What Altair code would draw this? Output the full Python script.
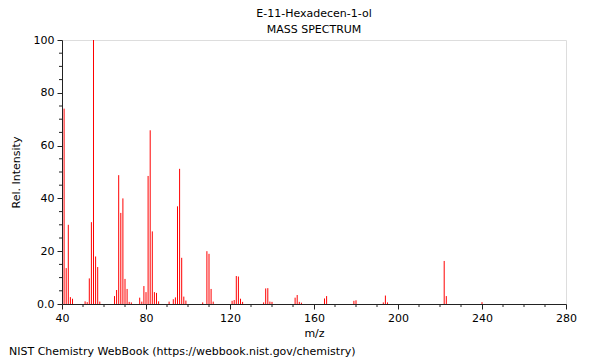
import altair as alt
import pandas as pd

# m/z values and relative intensities
mz = [41, 42, 43, 44, 45, 51, 52, 53, 54, 55, 56, 57, 58,
      65, 66, 67, 68, 69, 70, 71, 72, 73,
      77, 78, 79, 80, 81, 82, 83, 84, 85, 86,
      91, 93, 94, 95, 96, 97, 98, 99,
      107, 109, 110, 111, 112,
      121, 122, 123, 124, 125, 126,
      136, 137, 138, 139, 140,
      151, 152, 153, 154,
      165, 166, 179, 180, 193, 194, 195, 222, 223, 240]
intensity = [74.0, 13.6, 30.0, 2.6, 2.0, 1.0, 0.7, 9.7, 31.0, 100.0, 18.0, 14.0, 0.9,
             3.0, 5.3, 48.8, 34.5, 40.0, 9.5, 5.7, 0.8, 0.6,
             2.4, 0.9, 6.8, 4.5, 48.5, 65.8, 27.5, 4.5, 4.2, 1.0,
             0.9, 1.8, 2.5, 37.0, 51.2, 17.5, 2.8, 1.3,
             0.6, 20.0, 19.0, 5.7, 0.9,
             1.2, 1.5, 10.6, 10.4, 2.0, 0.8,
             0.6, 5.9, 6.0, 0.9, 0.8,
             2.4, 3.4, 0.8, 0.5,
             2.1, 3.0, 1.2, 1.4, 0.6, 3.2, 0.6, 16.3, 3.0, 0.7]

x_major = [40, 80, 120, 160, 200, 240, 280]
x_minor = [v for v in range(40, 281, 10) if v not in x_major]
y_major = [0, 20, 40, 60, 80, 100]
y_minor = [v for v in range(0, 101, 5) if v not in y_major]

title_lines = ["E-11-Hexadecen-1-ol", "MASS SPECTRUM"]
footer = "NIST Chemistry WebBook (https://webbook.nist.gov/chemistry)"

W, H = 504, 264
FONT = "DejaVu Sans"
AX = "#222"

df = pd.DataFrame({"mz": mz, "intensity": intensity})

xscale = alt.Scale(domain=[40, 280], nice=False, zero=False)
yscale = alt.Scale(domain=[0, 100], nice=False)

common = dict(tickSize=5, labelPadding=3, labelFontSize=11, titleFontSize=11,
              titleFontWeight="normal", labelColor="#000", titleColor="#000",
              domainColor=AX, tickColor=AX, grid=False, labelFlush=False,
              labelFont=FONT, titleFont=FONT)

peaks = alt.Chart(df).mark_rule(color="#ff0000", strokeWidth=1).encode(
    x=alt.X("mz:Q", scale=xscale,
            axis=alt.Axis(values=x_major, title="m/z", titlePadding=4, **common)),
    y=alt.Y("intensity:Q", scale=yscale,
            axis=alt.Axis(values=y_major, title="Rel. Intensity",
                          labelExpr="datum.value == 0 ? '0.0' : datum.label",
                          titlePadding=12, **common)),
    y2=alt.datum(0),
)

xminor = alt.Chart(pd.DataFrame({"v": x_minor})).mark_rule(color=AX, strokeWidth=1).encode(
    x=alt.X("v:Q", scale=xscale),
    y=alt.value(H), y2=alt.value(H + 3),
)
yminor = alt.Chart(pd.DataFrame({"v": y_minor})).mark_rule(color=AX, strokeWidth=1).encode(
    y=alt.Y("v:Q", scale=yscale),
    x=alt.value(-3), x2=alt.value(0),
)

def label(text, x, y, align):
    return alt.Chart(pd.DataFrame({"t": [text]})).mark_text(
        font=FONT, fontSize=11, color="#000", align=align, baseline="middle"
    ).encode(text="t:N", x=alt.value(x), y=alt.value(y))

title1 = label(title_lines[0], W / 2, -26, "center")
title2 = label(title_lines[1], W / 2, -10, "center")
foot = label(footer, -53, 312, "left")

chart = alt.layer(peaks, xminor, yminor, title1, title2, foot).properties(
    width=W, height=H,
    autosize=alt.AutoSizeParams(type="none"),
    padding={"left": 54, "top": 32, "right": 26, "bottom": 56},
).configure_view(stroke=AX, strokeWidth=1).configure(background="white")

chart.save("out.html", embed_options={"renderer": "svg", "actions": False})
